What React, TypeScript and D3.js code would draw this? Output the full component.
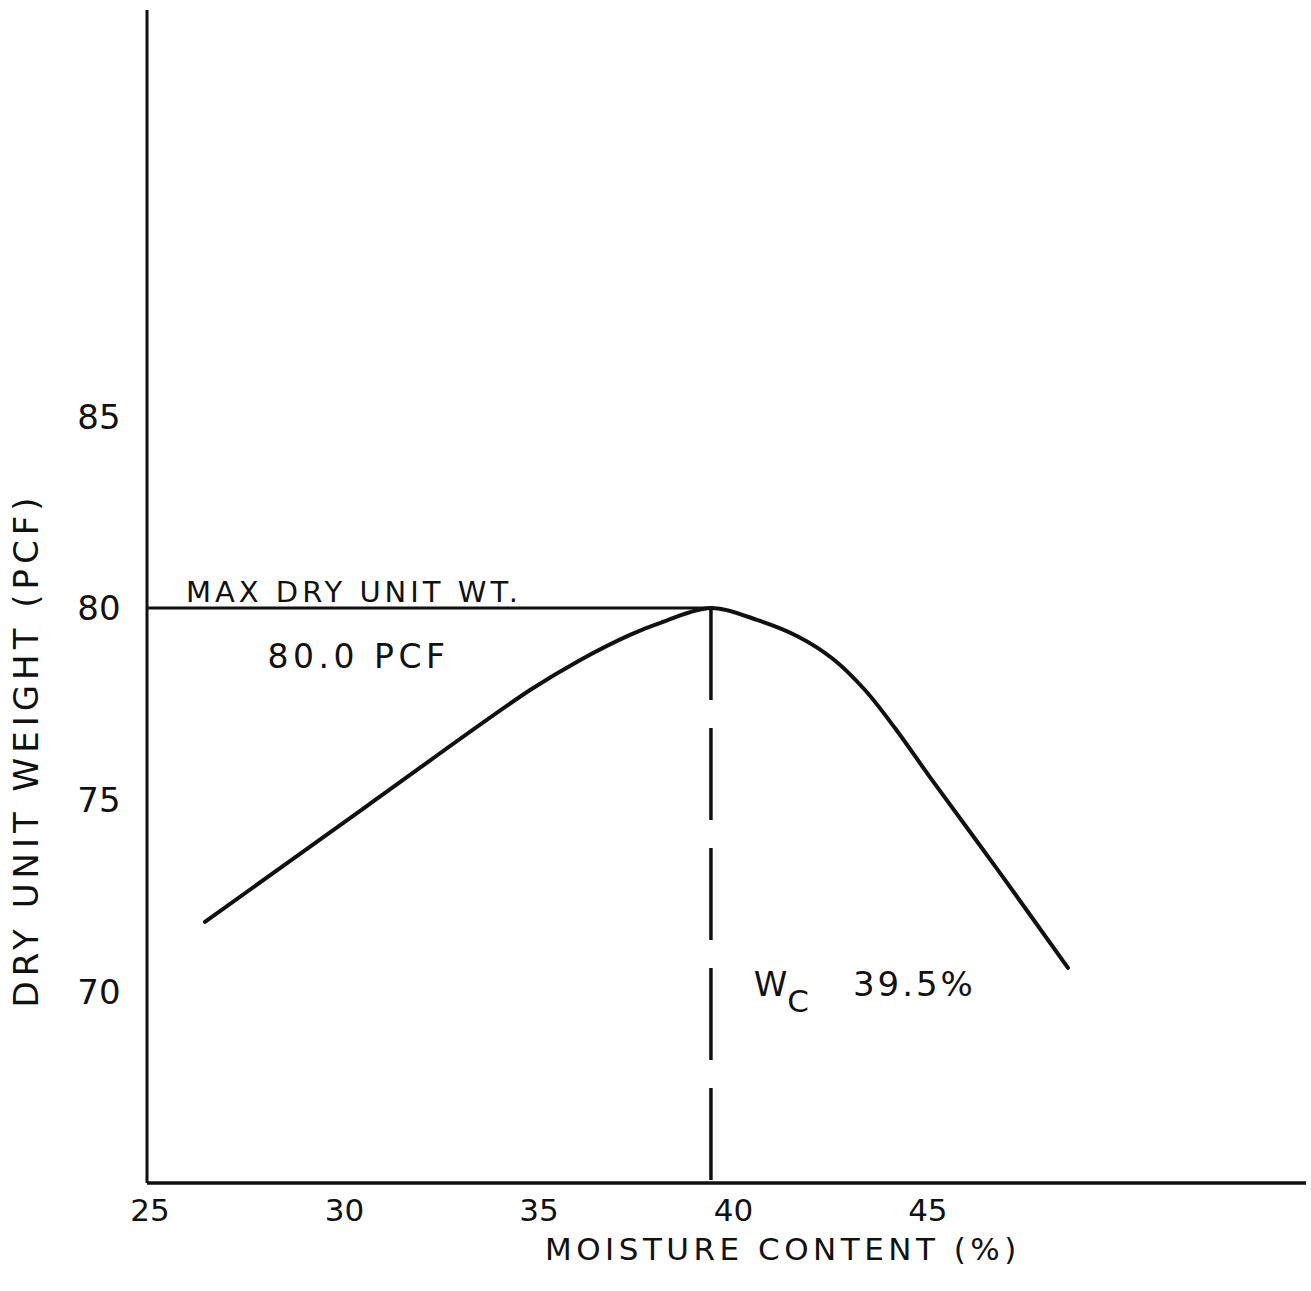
import React from 'react';
import * as d3 from 'd3';

// compaction curve
const moisture = [26.49, 30.66, 34.85, 36.13, 37.42, 38.27, 39.5, 40.68, 41.71, 42.64, 43.46, 44.23, 45.13, 46.93, 48.68];
const dryUnitWeight = [71.81, 74.84, 77.86, 78.64, 79.3, 79.64, 80.0, 79.69, 79.27, 78.67, 77.86, 76.87, 75.59, 73.09, 70.61];
const xTicks = [25, 30, 35, 40, 45];
const yTicks = [70, 75, 80, 85];
const maxDryWeight = 80.0;
const optimumMoisture = 39.5;

const W = 1311, H = 1291;
const font = "'DejaVu Sans', sans-serif";

export default function App() {
  const x = d3.scaleLinear().domain([25, 54.8]).range([147, 1306]);
  const y = d3.scaleLinear().domain([65, 95.6]).range([1183, 10]);

  const pts = moisture.map((m, i) => [m, dryUnitWeight[i]] as [number, number]);
  const line = d3.line<[number, number]>()
    .x(d => x(d[0]))
    .y(d => y(d[1]))
    .curve(d3.curveCatmullRom.alpha(0.5));

  return (
    <svg width={W} height={H} style={{ position: 'absolute', left: 0, top: 0, background: '#fff' }}
      fontFamily={font} fill="#111">
      {/* axes */}
      <line x1={x(25)} x2={x(25)} y1={y(95.6)} y2={y(65)} stroke="#111" strokeWidth={3} />
      <line x1={x(25)} x2={x(54.8)} y1={y(65)} y2={y(65)} stroke="#111" strokeWidth={3.5} />

      {/* max dry unit weight and optimum moisture */}
      <line x1={x(25)} x2={x(optimumMoisture) + 3} y1={y(maxDryWeight)} y2={y(maxDryWeight)}
        stroke="#111" strokeWidth={3} />
      <line x1={x(optimumMoisture)} x2={x(optimumMoisture)} y1={y(maxDryWeight)} y2={y(65)}
        stroke="#111" strokeWidth={3.5} strokeDasharray="92 28" />

      <path d={line(pts) ?? ''} fill="none" stroke="#111" strokeWidth={4} strokeLinecap="round" />

      {/* tick labels */}
      {yTicks.map(t => (
        <text key={t} x={99} y={y(t)} dy="0.36em" textAnchor="middle" fontSize={34}>{t}</text>
      ))}
      {xTicks.map(t => (
        <text key={t} x={x(t) + 3} y={1210} dy="0.36em" textAnchor="middle" fontSize={31}>{t}</text>
      ))}

      {/* axis titles */}
      <text x={x(39.5) + 72} y={1249} dy="0.36em" textAnchor="middle" fontSize={31} letterSpacing={4.5}>
        MOISTURE CONTENT (%)
      </text>
      <text transform={`translate(26,750) rotate(-90)`} dy="0.36em" textAnchor="middle" fontSize={34}
        letterSpacing={5}>
        DRY UNIT WEIGHT (PCF)
      </text>

      {/* annotations */}
      <text x={x(26)} y={y(maxDryWeight) - 6} fontSize={29} letterSpacing={4}>MAX DRY UNIT WT.</text>
      <text x={x(28.1)} y={y(maxDryWeight) + 60} fontSize={33} letterSpacing={4.5}>80.0 PCF</text>
      <text x={x(40.6)} y={y(70) + 5} fontSize={34}>
        W<tspan fontSize={31} dy={16}>C</tspan>
      </text>
      <text x={x(43.15)} y={y(70) + 5} fontSize={34} letterSpacing={3}>39.5%</text>
    </svg>
  );
}
